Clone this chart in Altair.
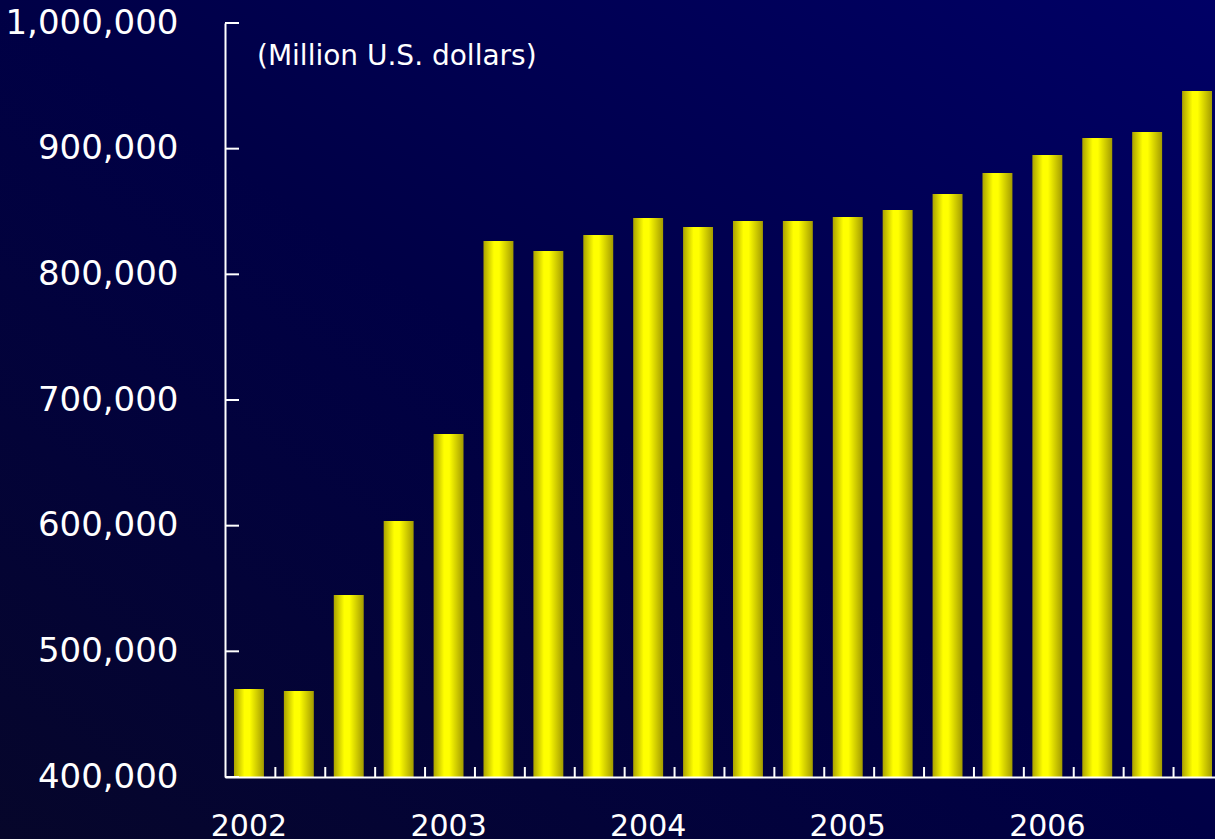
import altair as alt
import pandas as pd

quarters = [f"{y}Q{q}" for y in range(2002, 2007) for q in range(1, 5)]
values = [470000, 468400, 544800, 603700, 672900,
          826500, 818600, 831300, 844800, 837700,
          842400, 842400, 845600, 851200, 863900,
          880600, 895000, 908500, 913300, 945900]
y_ticks = [400000, 500000, 600000, 700000, 800000, 900000, 1000000]
year_label_quarters = ["2002Q1", "2003Q1", "2004Q1", "2005Q1", "2006Q1"]
unit_text = "(Million U.S. dollars)"

W, H = 990, 754
FONT = "DejaVu Sans"

df = pd.DataFrame({"q": quarters, "v": values})
tick_df = pd.DataFrame({"q": quarters[1:]})
ytick_df = pd.DataFrame({"v": y_ticks})
one = pd.DataFrame({"a": [0]})

xscale = alt.Scale(domain=quarters, range=[0, 996], paddingInner=0.4, paddingOuter=0.18)
yscale = alt.Scale(domain=[400000, 1000000], zero=False, nice=False)

bg = alt.Chart(one).mark_rect(
    fill=alt.LinearGradient(
        gradient="linear", x1=0, y1=1, x2=1, y2=0,
        stops=[alt.GradientStop(color="#06062a", offset=0),
               alt.GradientStop(color="#000046", offset=0.5),
               alt.GradientStop(color="#000066", offset=1)]),
).encode(x=alt.value(-225), x2=alt.value(W + 10), y=alt.value(-23), y2=alt.value(H + 62))

bar_grad = alt.LinearGradient(
    gradient="linear", x1=0, y1=0, x2=1, y2=0,
    stops=[alt.GradientStop(color="#aaa200", offset=0),
           alt.GradientStop(color="#ffff00", offset=0.35),
           alt.GradientStop(color="#ffff00", offset=0.52),
           alt.GradientStop(color="#a39b00", offset=1)])

bars = alt.Chart(df).mark_bar(fill=bar_grad).encode(
    x=alt.X("q:N", scale=xscale, sort=quarters,
            axis=alt.Axis(title=None, values=year_label_quarters,
                          labelExpr="slice(datum.value, 0, 4)",
                          labelAngle=0, ticks=False, domain=True,
                          domainColor="#ffffff", domainWidth=2,
                          labelColor="#ffffff", labelFont=FONT,
                          labelFontSize=30, labelPadding=34, grid=False,
                          zindex=1)),
    y=alt.Y("v:Q", scale=yscale,
            axis=alt.Axis(title=None, values=y_ticks, format=",d",
                          ticks=False, domain=True, domainColor="#ffffff",
                          domainWidth=2, labelColor="#ffffff", labelFont=FONT,
                          labelFontSize=34, labelPadding=47, grid=False,
                          zindex=1)),
    y2=alt.datum(400000),
)

xticks = alt.Chart(tick_df).mark_rule(color="#ffffff", strokeWidth=2, xOffset=-23.5).encode(
    x=alt.X("q:N", scale=xscale, sort=quarters),
    y=alt.value(H - 10), y2=alt.value(H),
)

yticks = alt.Chart(ytick_df).mark_rule(color="#ffffff", strokeWidth=2).encode(
    y=alt.Y("v:Q", scale=yscale),
    x=alt.value(0), x2=alt.value(14),
)

title = alt.Chart(one).mark_text(
    text=unit_text, align="left", baseline="middle",
    font=FONT, fontSize=28, color="#ffffff",
).encode(x=alt.value(32), y=alt.value(34))

chart = alt.layer(bg, bars, xticks, yticks, title).properties(
    width=W, height=H,
    autosize=alt.AutoSizeParams(type="none"),
    padding={"left": 225, "top": 23, "right": 0, "bottom": 62},
    background="#000033",
).configure_view(stroke=None)

chart.save("out.html", embed_options={"renderer": "svg", "actions": False})
